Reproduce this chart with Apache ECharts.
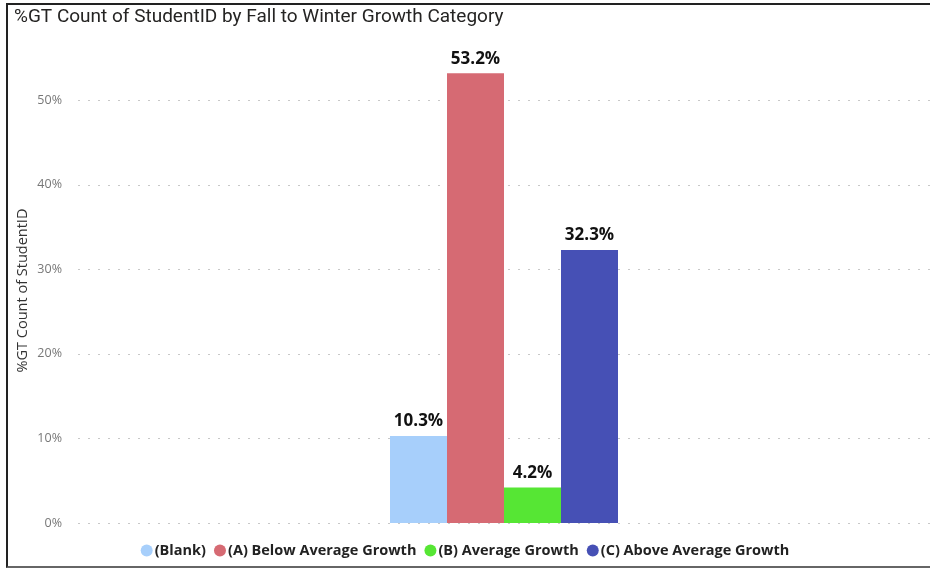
<!DOCTYPE html>
<html>
<head>
<meta charset="utf-8">
<script src="https://cdn.jsdelivr.net/npm/echarts@6/dist/echarts.min.js"></script>
<style>
html,body{margin:0;padding:0;background:#fff;}
#frame{position:absolute;left:6px;top:3px;width:924px;height:565px;border-left:2px solid #222;border-top:2px solid #222;border-bottom:2px solid #666;box-sizing:border-box;}
#chart{position:absolute;left:0;top:0;width:930px;height:571px;}
</style>
</head>
<body>
<div id="frame"></div>
<div id="chart"></div>
<script>
const titleText = "%GT Count of StudentID by Fall to Winter Growth Category";
const yAxisName = "%GT Count of StudentID";
const categories = [""];
const seriesNames = ["(Blank)", "(A) Below Average Growth", "(B) Average Growth", "(C) Above Average Growth"];
const seriesValues = [0.103, 0.532, 0.042, 0.323];
const seriesColors = ["#a7cffb", "#d66a73", "#56e634", "#4650b5"];

const chart = echarts.init(document.getElementById('chart'));
const series = seriesNames.map((name, i) => ({
  name: name,
  type: 'bar',
  data: [seriesValues[i]],
  barWidth: 57,
  barGap: '0%',
  itemStyle: { color: seriesColors[i] },
  label: {
    show: true,
    position: 'top',
    distance: 6,
    formatter: p => (p.value * 100).toFixed(1) + '%',
    color: '#111',
    fontFamily: 'Open Sans',
    fontWeight: 'bold',
    fontSize: 17
  }
}));

chart.setOption({
  animation: false,
  title: {
    text: titleText,
    left: 9,
    top: 3,
    textStyle: { fontFamily: 'Roboto', fontWeight: 'normal', fontSize: 19, color: '#252423' }
  },
  legend: {
    data: seriesNames,
    bottom: 8,
    left: 'center',
    icon: 'circle',
    itemWidth: 12,
    itemHeight: 12,
    itemGap: 8,
    textStyle: { fontFamily: 'Open Sans', fontWeight: 'bold', fontSize: 14.5, color: '#222', padding: [0, 0, 0, -3] }
  },
  grid: { left: 78, width: 859, top: 58, height: 465 },
  xAxis: {
    type: 'category',
    data: categories,
    axisLine: { show: false },
    axisTick: { show: false },
    axisLabel: { show: false }
  },
  yAxis: {
    type: 'value',
    min: 0,
    max: 0.55,
    interval: 0.1,
    name: yAxisName,
    nameLocation: 'middle',
    nameGap: 48,
    nameMoveOverlap: false,
    nameTextStyle: { fontFamily: 'Open Sans', fontSize: 14.5, color: '#333' },
    axisLine: { show: false },
    axisTick: { show: false },
    axisLabel: {
      formatter: v => Math.round(v * 100) + '%',
      showMaxLabel: false,
      margin: 16,
      fontFamily: 'Open Sans',
      fontSize: 12.5,
      color: '#777'
    },
    splitLine: { show: true, showMaxLine: false, lineStyle: { type: [2, 8], color: '#c8c8c8', width: 1 } }
  },
  series: series
});
</script>
</body>
</html>
